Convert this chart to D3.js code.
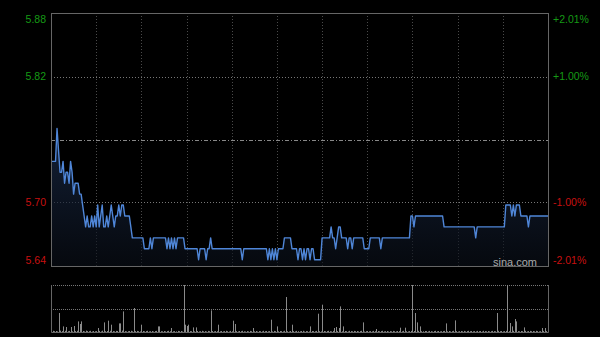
<!DOCTYPE html>
<html>
<head>
<meta charset="utf-8">
<script src="https://cdn.jsdelivr.net/npm/d3@7"></script>
<style>
  html, body { margin: 0; padding: 0; background: #000; }
  svg { display: block; }
</style>
</head>
<body>
<div id="chart"></div>
<script>
var width = 600;
var height = 337;

// previous close, axis labels
var prevClose = 5.76;
var pctLevels = [0.0201, 0.01, -0.01, -0.0201];
var priceLabels = ["5.88", "5.82", "5.70", "5.64"];
var pctLabels = ["+2.01%", "+1.00%", "-1.00%", "-2.01%"];

// one value per minute, 9:30 - 16:00 (331 minutes)
var prices = [
  5.74,5.74,5.74,5.74,5.77,5.75,5.73,5.73,5.74,5.72,
  5.73,5.73,5.72,5.74,5.73,5.71,5.72,5.72,5.72,5.71,
  5.71,5.70,5.69,5.68,5.69,5.68,5.68,5.69,5.68,5.69,
  5.68,5.70,5.68,5.69,5.70,5.68,5.68,5.69,5.68,5.69,
  5.70,5.69,5.68,5.69,5.69,5.70,5.69,5.70,5.70,5.69,
  5.69,5.69,5.69,5.68,5.67,5.67,5.67,5.67,5.67,5.67,
  5.67,5.67,5.66,5.66,5.66,5.66,5.67,5.66,5.67,5.67,
  5.67,5.67,5.67,5.67,5.67,5.67,5.67,5.66,5.67,5.66,
  5.67,5.66,5.67,5.66,5.67,5.67,5.67,5.67,5.67,5.66,
  5.66,5.66,5.66,5.66,5.66,5.66,5.66,5.66,5.65,5.66,
  5.66,5.66,5.66,5.65,5.66,5.66,5.67,5.66,5.66,5.66,
  5.66,5.66,5.66,5.66,5.66,5.66,5.66,5.66,5.66,5.66,
  5.66,5.66,5.66,5.66,5.66,5.66,5.66,5.65,5.66,5.66,
  5.66,5.66,5.66,5.66,5.66,5.66,5.66,5.66,5.66,5.66,
  5.66,5.66,5.66,5.66,5.65,5.66,5.65,5.66,5.65,5.66,
  5.65,5.66,5.66,5.66,5.66,5.67,5.67,5.67,5.67,5.67,
  5.66,5.66,5.66,5.66,5.65,5.66,5.66,5.65,5.66,5.65,
  5.66,5.66,5.65,5.66,5.66,5.65,5.65,5.65,5.65,5.65,
  5.67,5.67,5.67,5.67,5.67,5.67,5.68,5.67,5.67,5.66,
  5.67,5.68,5.68,5.67,5.67,5.67,5.67,5.66,5.67,5.67,
  5.66,5.67,5.67,5.67,5.67,5.67,5.67,5.67,5.66,5.66,
  5.66,5.66,5.67,5.67,5.67,5.67,5.67,5.67,5.67,5.66,
  5.67,5.67,5.67,5.67,5.67,5.67,5.67,5.67,5.67,5.67,
  5.67,5.67,5.67,5.67,5.67,5.67,5.67,5.67,5.67,5.69,
  5.69,5.68,5.69,5.69,5.69,5.69,5.69,5.69,5.69,5.69,
  5.69,5.69,5.69,5.69,5.69,5.69,5.69,5.69,5.69,5.69,
  5.69,5.68,5.68,5.68,5.68,5.68,5.68,5.68,5.68,5.68,
  5.68,5.68,5.68,5.68,5.68,5.68,5.68,5.68,5.68,5.68,
  5.68,5.68,5.67,5.68,5.68,5.68,5.68,5.68,5.68,5.68,
  5.68,5.68,5.68,5.68,5.68,5.68,5.68,5.68,5.68,5.68,
  5.68,5.68,5.70,5.70,5.70,5.70,5.69,5.70,5.69,5.70,
  5.70,5.70,5.69,5.69,5.69,5.69,5.69,5.68,5.69,5.69,
  5.69,5.69,5.69,5.69,5.69,5.69,5.69,5.69,5.69,5.69,
  5.69
];

// volume per minute (thousand shares)
var volumes = [
  290,12,8,10,6,190,14,9,56,12,
  50,8,11,50,7,60,9,12,106,80,
  106,10,6,14,9,8,12,5,10,7,
  9,40,11,6,13,96,8,10,113,12,
  73,9,7,11,10,86,86,14,206,9,
  6,8,10,12,7,240,9,11,8,6,
  73,10,7,9,12,6,8,10,5,9,
  11,56,56,8,7,10,6,9,12,8,
  40,7,9,6,11,8,10,5,470,73,
  60,73,9,8,46,7,46,10,6,8,
  12,7,9,5,11,8,216,10,6,9,
  8,73,7,10,6,9,12,8,5,11,
  7,113,80,9,6,10,8,12,7,5,
  9,6,11,8,40,7,10,5,9,8,
  6,12,8,10,7,9,123,6,11,8,
  56,7,10,9,6,12,350,8,5,10,
  73,9,6,11,8,7,10,12,5,9,
  8,6,56,10,9,7,11,183,8,6,
  273,10,7,9,12,8,6,11,40,50,
  9,40,256,7,56,10,8,6,12,9,
  7,11,8,10,6,9,12,96,5,8,
  10,7,9,6,11,8,30,10,7,9,
  12,6,8,10,5,9,7,11,8,6,
  10,9,43,7,12,43,8,6,9,11,
  470,10,190,96,12,56,8,7,10,9,
  6,11,8,5,9,12,7,10,6,8,
  9,11,86,7,10,6,8,12,116,9,
  5,8,10,7,11,6,9,12,8,10,
  7,9,6,11,8,10,5,12,9,7,
  10,6,8,11,9,7,190,12,8,10,
  6,9,11,470,8,90,56,12,130,106,
  9,7,10,8,46,12,6,9,11,8,
  10,7,12,9,6,8,40,11,40,9,
  8
];

// vertical grid every 30 minutes
var timeTicks = [30, 60, 90, 120, 150, 180, 210, 240, 270, 300];

var left = 51, right = 548;
var mainTop = 13, mainBottom = 266;
var volTop = 285, volBottom = 332;

var x = d3.scaleLinear().domain([0, 330]).range([left, right]);
var y = d3.scaleLinear()
  .domain([prevClose * (1 + pctLevels[3]), prevClose * (1 + pctLevels[0])])
  .range([mainBottom, mainTop]);
var yVol = d3.scaleLinear().domain([0, d3.max(volumes)]).range([volBottom, volTop]);

var svg = d3.select("#chart").append("svg")
  .attr("width", width)
  .attr("height", height)
  .style("font-family", "'Liberation Sans', Arial, sans-serif");

svg.append("rect").attr("width", width).attr("height", height).attr("fill", "#000");

var defs = svg.append("defs");
var grad = defs.append("linearGradient")
  .attr("id", "areaFill")
  .attr("x1", 0).attr("y1", 0).attr("x2", 0).attr("y2", 1);
grad.append("stop").attr("offset", "0%").attr("stop-color", "#1a2c4c").attr("stop-opacity", 0.75);
grad.append("stop").attr("offset", "100%").attr("stop-color", "#0a0f18").attr("stop-opacity", 0.6);

// grid - main
svg.append("g").selectAll("line")
  .data(timeTicks)
  .join("line")
    .attr("x1", d => Math.round(x(d)) + 0.5)
    .attr("x2", d => Math.round(x(d)) + 0.5)
    .attr("y1", mainTop)
    .attr("y2", mainBottom)
    .attr("stroke", "#4a4a4a")
    .attr("stroke-dasharray", "1,2");

svg.append("g").selectAll("line")
  .data([pctLevels[1], pctLevels[2]])
  .join("line")
    .attr("x1", left)
    .attr("x2", right)
    .attr("y1", d => Math.round(y(prevClose * (1 + d))) + 0.5)
    .attr("y2", d => Math.round(y(prevClose * (1 + d))) + 0.5)
    .attr("stroke", "#777")
    .attr("stroke-dasharray", "1,2");

// previous close line
svg.append("line")
  .attr("x1", left).attr("x2", right)
  .attr("y1", Math.round(y(prevClose)) + 0.5)
  .attr("y2", Math.round(y(prevClose)) + 0.5)
  .attr("stroke", "#888")
  .attr("stroke-dasharray", "4,2,1,2");

// area + line
var area = d3.area()
  .x((d, i) => x(i))
  .y0(mainBottom)
  .y1(d => y(d));

var line = d3.line()
  .x((d, i) => x(i))
  .y(d => y(d));

svg.append("path")
  .datum(prices)
  .attr("d", area)
  .attr("fill", "url(#areaFill)");

svg.append("path")
  .datum(prices)
  .attr("d", line)
  .attr("fill", "none")
  .attr("stroke", "#4f86d8")
  .attr("stroke-width", 1.4)
  .attr("stroke-linejoin", "round");

// main frame
svg.append("rect")
  .attr("x", left + 0.5).attr("y", mainTop + 0.5)
  .attr("width", right - left).attr("height", mainBottom - mainTop)
  .attr("fill", "none")
  .attr("stroke", "#666");

// axis labels
var ypos = function(d, i) {
  var v = y(prevClose * (1 + d));
  if (i === 0) return v + 6;
  if (i === pctLevels.length - 1) return v - 6;
  return v;
};
var labelColor = d => d > 0 ? "#159a15" : "#c81010";

svg.append("g").selectAll("text")
  .data(pctLevels)
  .join("text")
    .attr("x", 46)
    .attr("y", ypos)
    .attr("dy", "0.35em")
    .attr("text-anchor", "end")
    .attr("font-size", 10.5)
    .attr("fill", labelColor)
    .text((d, i) => priceLabels[i]);

svg.append("g").selectAll("text")
  .data(pctLevels)
  .join("text")
    .attr("x", 553)
    .attr("y", ypos)
    .attr("dy", "0.35em")
    .attr("font-size", 10.5)
    .attr("fill", labelColor)
    .text((d, i) => pctLabels[i]);

svg.append("text")
  .attr("x", 537)
  .attr("y", 262)
  .attr("dy", "0.35em")
  .attr("text-anchor", "end")
  .attr("font-size", 11)
  .attr("fill", "#aaa")
  .text("sina.com");

// volume pane
svg.append("g").selectAll("line")
  .data([volTop, (volTop + volBottom) / 2])
  .join("line")
    .attr("x1", left).attr("x2", right)
    .attr("y1", d => Math.round(d) + 0.5)
    .attr("y2", d => Math.round(d) + 0.5)
    .attr("stroke", "#777")
    .attr("stroke-dasharray", "1,1");

svg.append("g").selectAll("line")
  .data(volumes)
  .join("line")
    .attr("x1", (d, i) => Math.round(x(i)) + 0.5)
    .attr("x2", (d, i) => Math.round(x(i)) + 0.5)
    .attr("y1", volBottom)
    .attr("y2", d => yVol(d))
    .attr("stroke", "#8a8a8a")
    .attr("stroke-width", 1);

svg.append("path")
  .attr("d", `M${left + 0.5},${volTop}V${volBottom + 0.5}H${right + 0.5}V${volTop}`)
  .attr("fill", "none")
  .attr("stroke", "#666");
</script>
</body>
</html>
